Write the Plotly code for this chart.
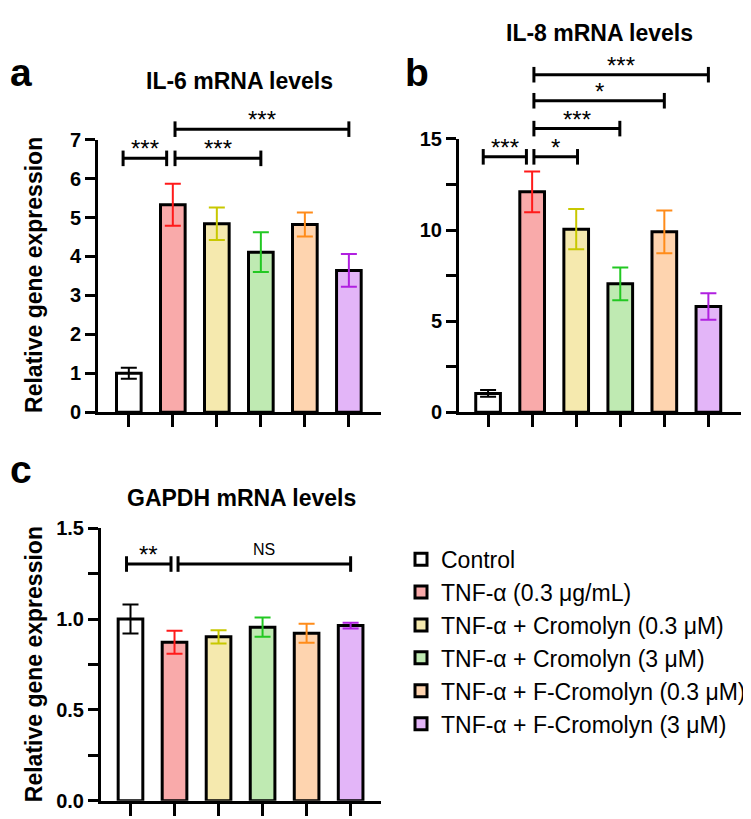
import plotly.graph_objects as go

W, H = 751, 819

groups = ["Control", "TNF-α (0.3 μg/mL)", "TNF-α + Cromolyn (0.3 μM)",
          "TNF-α + Cromolyn (3 μM)", "TNF-α + F-Cromolyn (0.3 μM)",
          "TNF-α + F-Cromolyn (3 μM)"]
fill_colors = ["#FFFFFF", "#F9AAAA", "#F5E9AE", "#BFEAB2", "#FED4AF", "#E3B5F8"]
err_colors = ["#000000", "#FF1A1A", "#C8C800", "#22C822", "#FF8C1A", "#B020E0"]

il6_mean = [1.0, 5.33, 4.84, 4.11, 4.82, 3.64]
il6_err = [0.14, 0.54, 0.42, 0.51, 0.31, 0.42]
il8_mean = [1.03, 12.1, 10.05, 7.05, 9.9, 5.8]
il8_err = [0.18, 1.12, 1.1, 0.9, 1.18, 0.73]
gapdh_mean = [1.0, 0.872, 0.902, 0.955, 0.922, 0.964]
gapdh_err = [0.08, 0.063, 0.036, 0.053, 0.052, 0.016]

# significance brackets: (x_start, x_end, height in data units, label)
il6_sig = [(-0.13, 0.86, 6.52, "***"), (1.05, 3.0, 6.52, "***"), (1.05, 5.0, 7.27, "***")]
il8_sig = [(-0.11, 0.87, 14.02, "***"), (1.04, 2.03, 14.02, "*"), (1.04, 2.99, 15.57, "***"),
           (1.04, 4.0, 17.1, "*"), (1.04, 5.0, 18.53, "***")]
gapdh_sig = [(-0.09, 0.92, 1.303, "**"), (1.08, 5.0, 1.303, "NS")]

FONT = "Liberation Sans, Arial, sans-serif"


def px_x(p):
    return p / W


def px_y(p):
    return 1 - p / H


panels = [
    dict(mean=il6_mean, err=il6_err, sig=il6_sig, ytop=7,
         tickvals=[0, 1, 2, 3, 4, 5, 6, 7], ticktext=["0", "1", "2", "3", "4", "5", "6", "7"],
         xd=(90, 373), yd=(404, 124), xr=[-0.70, 5.73],
         title="IL-6 mRNA levels", tpos=(231, 64), label="a", lpos=(0, 55), ytitle=True, ytpos=(26, 263)),
    dict(mean=il8_mean, err=il8_err, sig=il8_sig, ytop=15,
         tickvals=[0, 2.5, 5, 7.5, 10, 12.5, 15], ticktext=["0", "", "5", "", "10", "", "15"],
         xd=(451, 733), yd=(404, 123.3), xr=[-0.66, 5.74],
         title="IL-8 mRNA levels", tpos=(591, 14), label="b", lpos=(395, 55), ytitle=False, ytpos=None),
    dict(mean=gapdh_mean, err=gapdh_err, sig=gapdh_sig, ytop=1.5,
         tickvals=[0, 0.25, 0.5, 0.75, 1.0, 1.25, 1.5], ticktext=["0.0", "", "0.5", "", "1.0", "", "1.5"],
         xd=(93, 373), yd=(803.3, 523.3), xr=[-0.67, 5.69],
         title="GAPDH mRNA levels", tpos=(233, 492), label="c", lpos=(0, 463), ytitle=True, ytpos=(26, 663)),
]

fig = go.Figure()
annotations = []
shapes = []

for pi, p in enumerate(panels):
    k = "" if pi == 0 else str(pi + 1)
    xa, ya = "x" + k, "y" + k
    for gi, g in enumerate(groups):
        fig.add_trace(go.Bar(
            x=[gi], y=[p["mean"][gi]], name=g,
            xaxis=xa, yaxis=ya, width=0.56,
            marker=dict(color=fill_colors[gi], line=dict(color="black", width=3)),
            error_y=dict(type="data", array=[p["err"][gi]], visible=True,
                         color=err_colors[gi], thickness=2, width=8),
            showlegend=(pi == 2), legendgroup=g,
        ))
    axis_x = dict(domain=[px_x(p["xd"][0]), px_x(p["xd"][1])], range=p["xr"],
                  showgrid=False, zeroline=False, showline=True, linecolor="black", linewidth=3,
                  ticks="outside", ticklen=12, tickwidth=3, tickcolor="black",
                  tickvals=[0, 1, 2, 3, 4, 5], ticktext=[""] * 6, anchor=ya, fixedrange=True)
    axis_y = dict(domain=[px_y(p["yd"][0]), px_y(p["yd"][1])], range=[0, p["ytop"]],
                  showgrid=False, zeroline=False, showline=True, linecolor="black", linewidth=3,
                  ticks="outside", ticklen=10, tickwidth=3, tickcolor="black",
                  tickvals=p["tickvals"], ticktext=p["ticktext"],
                  tickfont=dict(family=FONT, size=20, color="black", weight="bold"),
                  anchor=xa, fixedrange=True)
    fig.update_layout(**{("xaxis" + k): axis_x, ("yaxis" + k): axis_y})

    # significance brackets
    for (x0, x1, h, lab) in p["sig"]:
        yf = h / p["ytop"]
        tick = 8 / (p["yd"][0] - p["yd"][1])
        shapes.append(dict(type="line", xref=xa, yref=ya + " domain", x0=x0, x1=x1, y0=yf, y1=yf,
                           line=dict(color="black", width=3)))
        for xx in (x0, x1):
            shapes.append(dict(type="line", xref=xa, yref=ya + " domain", x0=xx, x1=xx,
                               y0=yf - tick, y1=yf + tick, line=dict(color="black", width=3)))
        if lab == "NS":
            annotations.append(dict(x=(x0 + x1) / 2, y=yf, xref=xa, yref=ya + " domain",
                                    text="NS", showarrow=False, yanchor="bottom", yshift=4,
                                    font=dict(family=FONT, size=16, color="black")))
        else:
            annotations.append(dict(x=(x0 + x1) / 2, y=yf, xref=xa, yref=ya + " domain",
                                    text=lab, showarrow=False, yanchor="bottom", yshift=-6,
                                    font=dict(family=FONT, size=24, color="black")))
    # titles and panel letters
    annotations.append(dict(x=px_x(p["tpos"][0]), y=px_y(p["tpos"][1]), xref="paper", yref="paper",
                            text="<b>" + p["title"] + "</b>", showarrow=False,
                            xanchor="center", yanchor="middle",
                            font=dict(family=FONT, size=23, color="black")))
    annotations.append(dict(x=px_x(p["lpos"][0]), y=px_y(p["lpos"][1]), xref="paper", yref="paper",
                            text="<b>" + p["label"] + "</b>", showarrow=False,
                            xanchor="left", yanchor="middle",
                            font=dict(family=FONT, size=39, color="black")))
    if p["ytitle"]:
        annotations.append(dict(x=px_x(p["ytpos"][0]), y=px_y(p["ytpos"][1]), xref="paper", yref="paper",
                                text="<b>Relative gene expression</b>", showarrow=False, textangle=-90,
                                xanchor="center", yanchor="middle",
                                font=dict(family=FONT, size=23, color="black")))

fig.update_layout(
    width=W, height=H, margin=dict(l=0, r=0, t=0, b=0),
    paper_bgcolor="white", plot_bgcolor="white",
    bargap=0.4, barmode="overlay",
    annotations=annotations, shapes=shapes,
    legend=dict(x=px_x(393), y=px_y(533), xanchor="left", yanchor="top",
                font=dict(family=FONT, size=23, color="black"),
                traceorder="normal", tracegroupgap=7, bgcolor="rgba(0,0,0,0)"),
)

fig.write_html("out.html")
